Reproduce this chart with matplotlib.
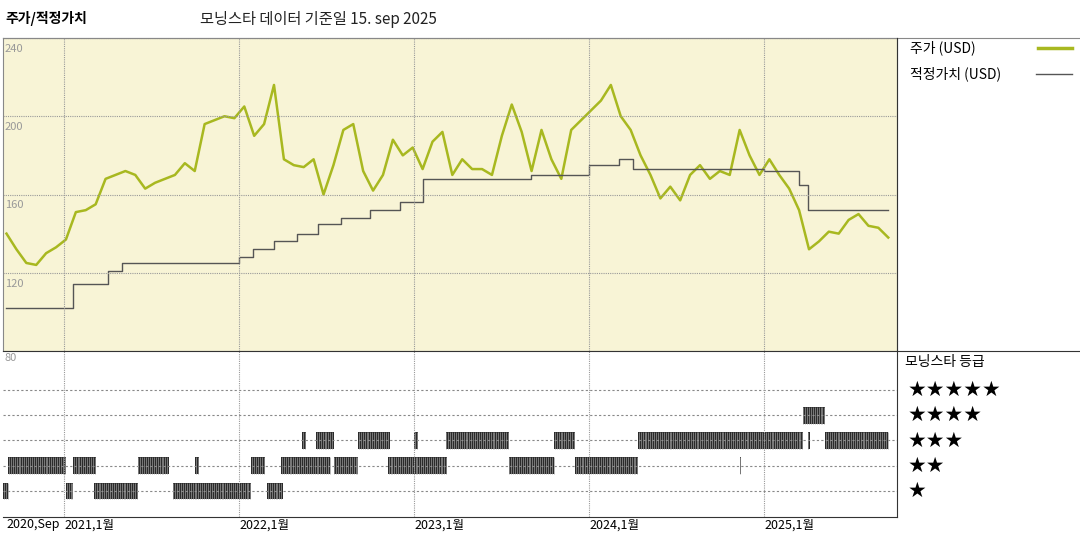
import numpy as np
import matplotlib
matplotlib.use("Agg")
import matplotlib.pyplot as plt
from matplotlib.lines import Line2D

plt.rcParams["font.family"] = ["Noto Sans CJK KR", "DejaVu Sans"]

price_start, price_end = 2020.67, 2025.71
price = [140,132,125,124,130,133,137,151,152,155,168,170,172,170,163,166,168,170,176,172,
         196,198,200,199,205,190,196,216,178,175,174,178,160,175,193,196,172,162,170,188,
         180,184,173,187,192,170,178,173,173,170,190,206,192,172,193,178,168,193,198,203,
         208,216,200,193,180,170,158,164,157,170,175,168,172,170,193,180,170,178,170,163,
         152,132,136,141,140,147,150,144,143,138]

fair_t = [2020.67,2021.05,2021.25,2021.33,2022.0,2022.08,2022.2,2022.33,2022.45,2022.58,
          2022.75,2022.92,2023.05,2023.67,2024.0,2024.17,2024.25,2025.0,2025.2,2025.25,2025.71]
fair_v = [102,114,121,125,128,132,136,140,145,148,152,156,168,170,175,178,173,172,165,152,152]

ratings = {
    1: [(2020.65,2020.68),(2021.01,2021.05),(2021.17,2021.42),(2021.62,2022.07),(2022.16,2022.25)],
    2: [(2020.68,2021.01),(2021.05,2021.18),(2021.42,2021.60),(2021.75,2021.77),(2022.07,2022.15),
        (2022.24,2022.52),(2022.54,2022.68),(2022.85,2023.19),(2023.54,2023.80),(2023.92,2024.28),
        (2024.86,2024.87)],
    3: [(2022.36,2022.38),(2022.44,2022.54),(2022.68,2022.86),(2023.00,2023.02),(2023.18,2023.54),
        (2023.80,2023.92),(2024.28,2025.22),(2025.25,2025.26),(2025.35,2025.71)],
    4: [(2025.22,2025.35)],
}
tick_pos = [2020.67, 2021, 2022, 2023, 2024, 2025]
tick_lab = ["2020,Sep", "2021,1월", "2022,1월", "2023,1월", "2024,1월", "2025,1월"]

W, H = 1080, 540
fig = plt.figure(figsize=(10.8, 5.4), dpi=100)
xmin, xmax = 2020.65, 2025.76

ax = fig.add_axes([3/W, 1-351/H, 894/W, 313/H])
ax.set_facecolor("#f8f4d6")
t = np.linspace(price_start, price_end, len(price))
ax.plot(t, price, color="#a8b820", lw=1.8)
ax.step(fair_t, fair_v, where="post", color="#555555", lw=1)
ax.set_xlim(xmin, xmax); ax.set_ylim(80, 240)
for v in [120,160,200,240]:
    ax.axhline(v, color="#999999", ls=(0,(1,1)), lw=0.8)
    ax.text(xmin+0.01, v-3, str(v), color="#999999", fontsize=8, va="top")
for x in tick_pos[1:]:
    ax.axvline(x, color="#999999", ls=(0,(1,1)), lw=0.8)
ax.set_xticks([]); ax.set_yticks([])
for s in ax.spines.values(): s.set_color("#888888"); s.set_linewidth(0.8)

ax2 = fig.add_axes([3/W, 1-517/H, 894/W, 166/H])
ax2.set_xlim(xmin, xmax); ax2.set_ylim(-0.03, 6.54)
for r in range(1, 6):
    ax2.axhline(r, color="#888888", ls=(0,(2,2)), lw=0.8)
for x in tick_pos[1:]:
    ax2.axvline(x, color="#999999", ls=(0,(1,1)), lw=0.8)
ax2.text(xmin+0.01, 6.45, "80", color="#999999", fontsize=8, va="top")
for r, segs in ratings.items():
    for a, b in segs:
        ax2.fill_between([a, b], r-0.33, r+0.33, color="#2a2a2a", lw=0)
        xs = np.arange(a+0.004, b, 0.011)
        ax2.vlines(xs, r-0.33, r+0.33, color="#9a9a9a", lw=0.5)
ax2.set_yticks([])
ax2.set_xticks(tick_pos)
ax2.set_xticklabels(tick_lab, fontsize=9)
for lbl in ax2.get_xticklabels(): lbl.set_horizontalalignment("left")
ax2.tick_params(axis="x", length=0, pad=1)
for s in ["top", "right", "left"]: ax2.spines[s].set_visible(False)
ax2.spines["bottom"].set_color("#333333")

fig.add_artist(Line2D([3/W, 1], [1-38/H]*2, color="#888888", lw=0.8))
fig.add_artist(Line2D([3/W, 1], [1-351/H]*2, color="#333333", lw=0.8))
fig.add_artist(Line2D([897/W]*2, [1-38/H, 1-517/H], color="#333333", lw=0.8))

fig.text(5/W, 1-18/H, "주가/적정가치", fontsize=10, fontweight="bold", va="center")
fig.text(200/W, 1-20/H, "모닝스타 데이터 기준일 15. sep 2025", fontsize=11, va="center", color="#222222")
fig.text(910/W, 1-48/H, "주가 (USD)", fontsize=10, va="center")
fig.add_artist(Line2D([1038/W, 1072/W], [1-48/H]*2, color="#a8b820", lw=2.5))
fig.text(910/W, 1-74/H, "적정가치 (USD)", fontsize=10, va="center")
fig.add_artist(Line2D([1036/W, 1072/W], [1-74/H]*2, color="#555555", lw=1))
fig.text(905/W, 1-362/H, "모닝스타 등급", fontsize=10, va="center")
for i, n in enumerate([5, 4, 3, 2, 1]):
    fig.text(908/W, 1-(390+i*25.3)/H, "★"*n, fontsize=15, va="center", family="DejaVu Sans")

fig.savefig("out.png", dpi=100)
